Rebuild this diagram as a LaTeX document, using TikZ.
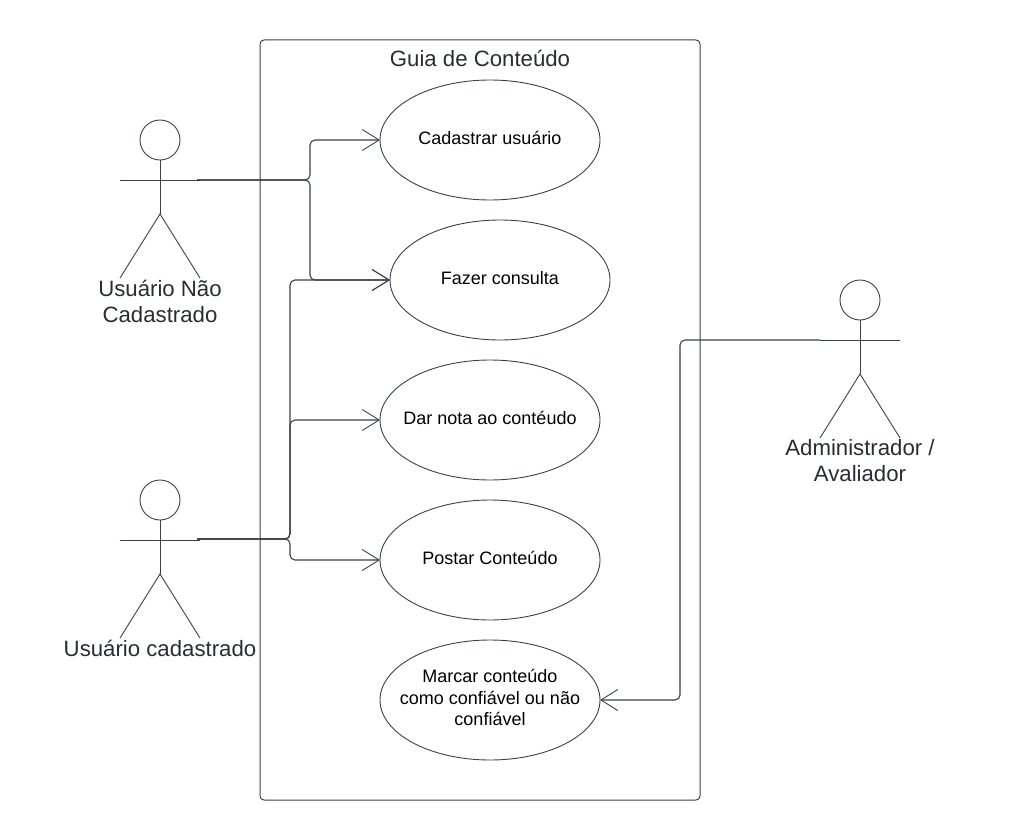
\documentclass[tikz,border=0pt]{standalone}
\usepackage{fontspec}
\setmainfont{Liberation Sans}
\usetikzlibrary{shapes.geometric, arrows.meta, positioning, calc}
\definecolor{linecol}{HTML}{3A414A}
\definecolor{textcol}{HTML}{282C33}
\newcommand{\casetext}[2][2pt]{\raisebox{#1}{\makebox[0pt]{\begin{tabular}{@{}c@{}}#2\end{tabular}}}}
\tikzset{
  usecase/.style={draw=linecol, ellipse, line width=0.9pt, minimum width=220pt, minimum height=120pt, inner sep=0pt, outer sep=0pt, align=center, font=\fontsize{18}{21.5}\selectfont, text=black},
  actorhead/.style={draw=linecol, circle, line width=0.9pt, minimum size=40pt, inner sep=0pt, outer sep=0pt},
  actorlabel/.style={align=center, inner sep=0pt, font=\fontsize{22.2}{26}\selectfont, text=textcol},
  limb/.style={draw=linecol, line width=0.9pt},
  conn/.style={draw=linecol, line width=1.1pt, rounded corners=5pt, -{Straight Barb[length=17pt, width=21pt, line width=0.9pt]}}
}
\begin{document}
\begin{tikzpicture}[x=1pt, y=-1pt]
        \useasboundingbox (0,0) rectangle (1020,840);

        % System boundary
        \node[draw=linecol, line width=1pt, rounded corners=4pt, minimum width=440pt, minimum height=760pt, inner sep=0pt, outer sep=0pt] (guia) at (480,420) {};
        \node[font=\fontsize{22.2}{26}\selectfont, text=textcol, inner sep=0pt] (titulo) at (480,58) {Guia de Conteúdo};

        % Use cases
        \node[usecase] (cadastrar) at (490,140) {\casetext{Cadastrar usuário}};
        \node[usecase] (consulta) at (500,280) {\casetext{Fazer consulta}};
        \node[usecase] (nota) at (490,420) {\casetext{Dar nota ao contéudo}};
        \node[usecase] (postar) at (490,560) {\casetext{Postar Conteúdo}};
        \node[usecase] (marcar) at (490,700) {\casetext[6pt]{Marcar conteúdo\\como confiável ou não\\confiável}};

        % Actors
        \foreach \name/\cx/\cy in {naocad/160/120, cadastrado/160/480, admin/860/280} {
            \node[actorhead] (\name) at (\cx,\cy+20) {};
            \coordinate (\name crotch) at (\cx,\cy+94);
            \draw[limb] (\name.south) -- (\name crotch);
            \draw[limb] (\cx-40,\cy+60) -- (\cx+40,\cy+60);
            \draw[limb] (\cx-40,\cy+158) -- (\name crotch) -- (\cx+40,\cy+158);
        }
        \node[actorlabel] (lblnaocad) at (160,301) {Usuário Não\\Cadastrado};
        \node[actorlabel] (lblcadastrado) at (160,648) {Usuário cadastrado};
        \node[actorlabel] (lbladmin) at (860,461) {Administrador /\\Avaliador};

        % Connector ends
        \coordinate (armnaocad) at (197,180);
        \coordinate (armcadastrado) at (197,539);
        \coordinate (armadmin) at (820,340);
        \coordinate (busnaocad) at (310,180);
        \coordinate (buscadastrado) at (290,539);
        \coordinate (busadmin) at (680,340);

        % Arrows
        \draw[conn] (armnaocad) -- (busnaocad) |- (cadastrar.west);
        \draw[conn] (armnaocad) -- (busnaocad) |- (consulta.west);
        \draw[conn] (armcadastrado) -- (buscadastrado) |- (consulta.west);
        \draw[conn] (armcadastrado) -- (buscadastrado) |- (nota.west);
        \draw[conn] (armcadastrado) -- (buscadastrado) |- (postar.west);
        \draw[conn] (armadmin) -- (busadmin) |- (marcar.east);
\end{tikzpicture}
\end{document}
